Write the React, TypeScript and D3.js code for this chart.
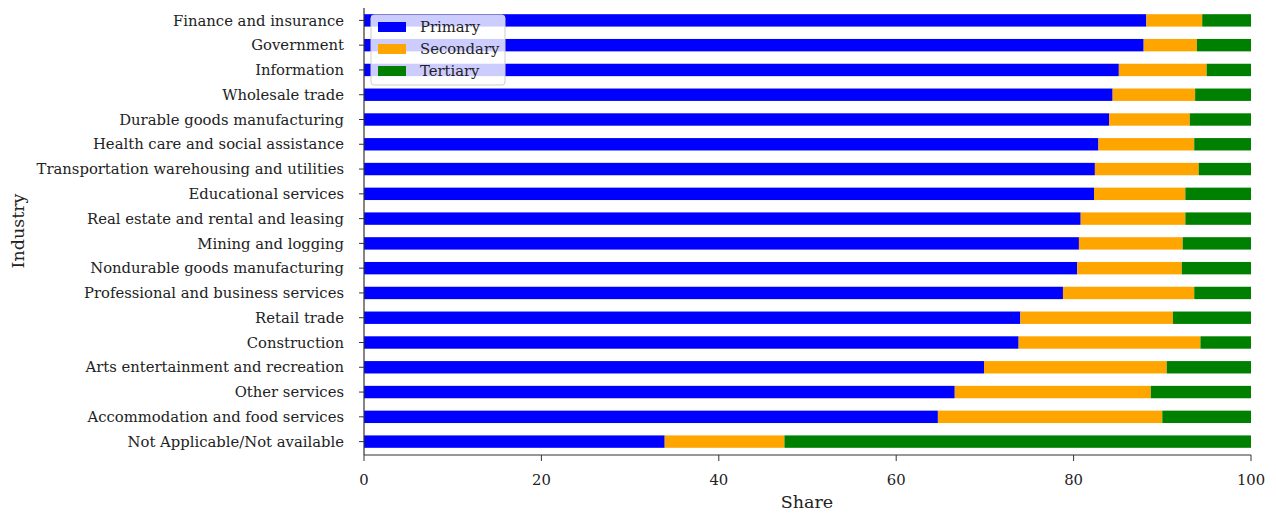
import React from "react";
import * as d3 from "d3";

const categories = ["Finance and insurance","Government","Information","Wholesale trade","Durable goods manufacturing","Health care and social assistance","Transportation warehousing and utilities","Educational services","Real estate and rental and leasing","Mining and logging","Nondurable goods manufacturing","Professional and business services","Retail trade","Construction","Arts entertainment and recreation","Other services","Accommodation and food services","Not Applicable/Not available"];
const primary = [88.2,87.9,85.1,84.4,84.0,82.8,82.4,82.3,80.8,80.6,80.4,78.8,74.0,73.8,69.9,66.6,64.7,33.9];
const cumSecondary = [94.5,93.9,95.0,93.7,93.1,93.6,94.1,92.6,92.6,92.3,92.2,93.6,91.2,94.3,90.5,88.7,90.0,47.4];
const xTicks = [0,20,40,60,80,100];
const seriesNames = ["Primary","Secondary","Tertiary"];
const colors = ["#0000ff","#ffa500","#008000"];

export default function App() {
  const x = d3.scaleLinear().domain([0,100]).range([364,1251]);
  const y = d3.scaleLinear().domain([-0.5,17.5]).range([8,454]);
  const bh = 12.4;
  const font = "DejaVu Serif";
  const fs = 14.8;
  return (
    <svg width={1276} height={513} style={{position:"absolute",left:0,top:0}} fontFamily={font}>
      <rect width={1276} height={513} fill="white"/>
      {categories.map((c,i)=>{
        const segs = [[0,primary[i]],[primary[i],cumSecondary[i]],[cumSecondary[i],100]];
        return <g key={c}>
          {segs.map((s,j)=><rect key={j} x={x(s[0])} width={x(s[1])-x(s[0])} y={y(i)-bh/2} height={bh} fill={colors[j]}/>)}
          <line x1={359} x2={364} y1={y(i)} y2={y(i)} stroke="#333"/>
          <text x={344} y={y(i)} dy="0.35em" textAnchor="end" fontSize={fs} fill="#222">{c}</text>
        </g>;
      })}
      <line x1={364} x2={364} y1={8} y2={455} stroke="#333" strokeWidth={1.2}/>
      <line x1={364} x2={1251} y1={455} y2={455} stroke="#333" strokeWidth={1.2}/>
      {xTicks.map(t=><g key={t}>
        <line x1={x(t)} x2={x(t)} y1={455} y2={461} stroke="#333"/>
        <text x={x(t)} y={485} textAnchor="middle" fontSize={fs} fill="#222">{t}</text>
      </g>)}
      <text x={807} y={508} textAnchor="middle" fontSize={17.5} fill="#222">Share</text>
      <text transform="translate(24,231) rotate(-90)" textAnchor="middle" fontSize={17.5} fill="#222">Industry</text>
      <rect x={371} y={15} width={134} height={70} rx={3} fill="white" fillOpacity={0.8} stroke="#ccc"/>
      {seriesNames.map((n,j)=><g key={n}>
        <rect x={378} y={22+j*22} width={28} height={10} fill={colors[j]}/>
        <text x={420} y={27+j*22} dy="0.35em" fontSize={fs} fill="#222">{n}</text>
      </g>)}
    </svg>
  );
}
